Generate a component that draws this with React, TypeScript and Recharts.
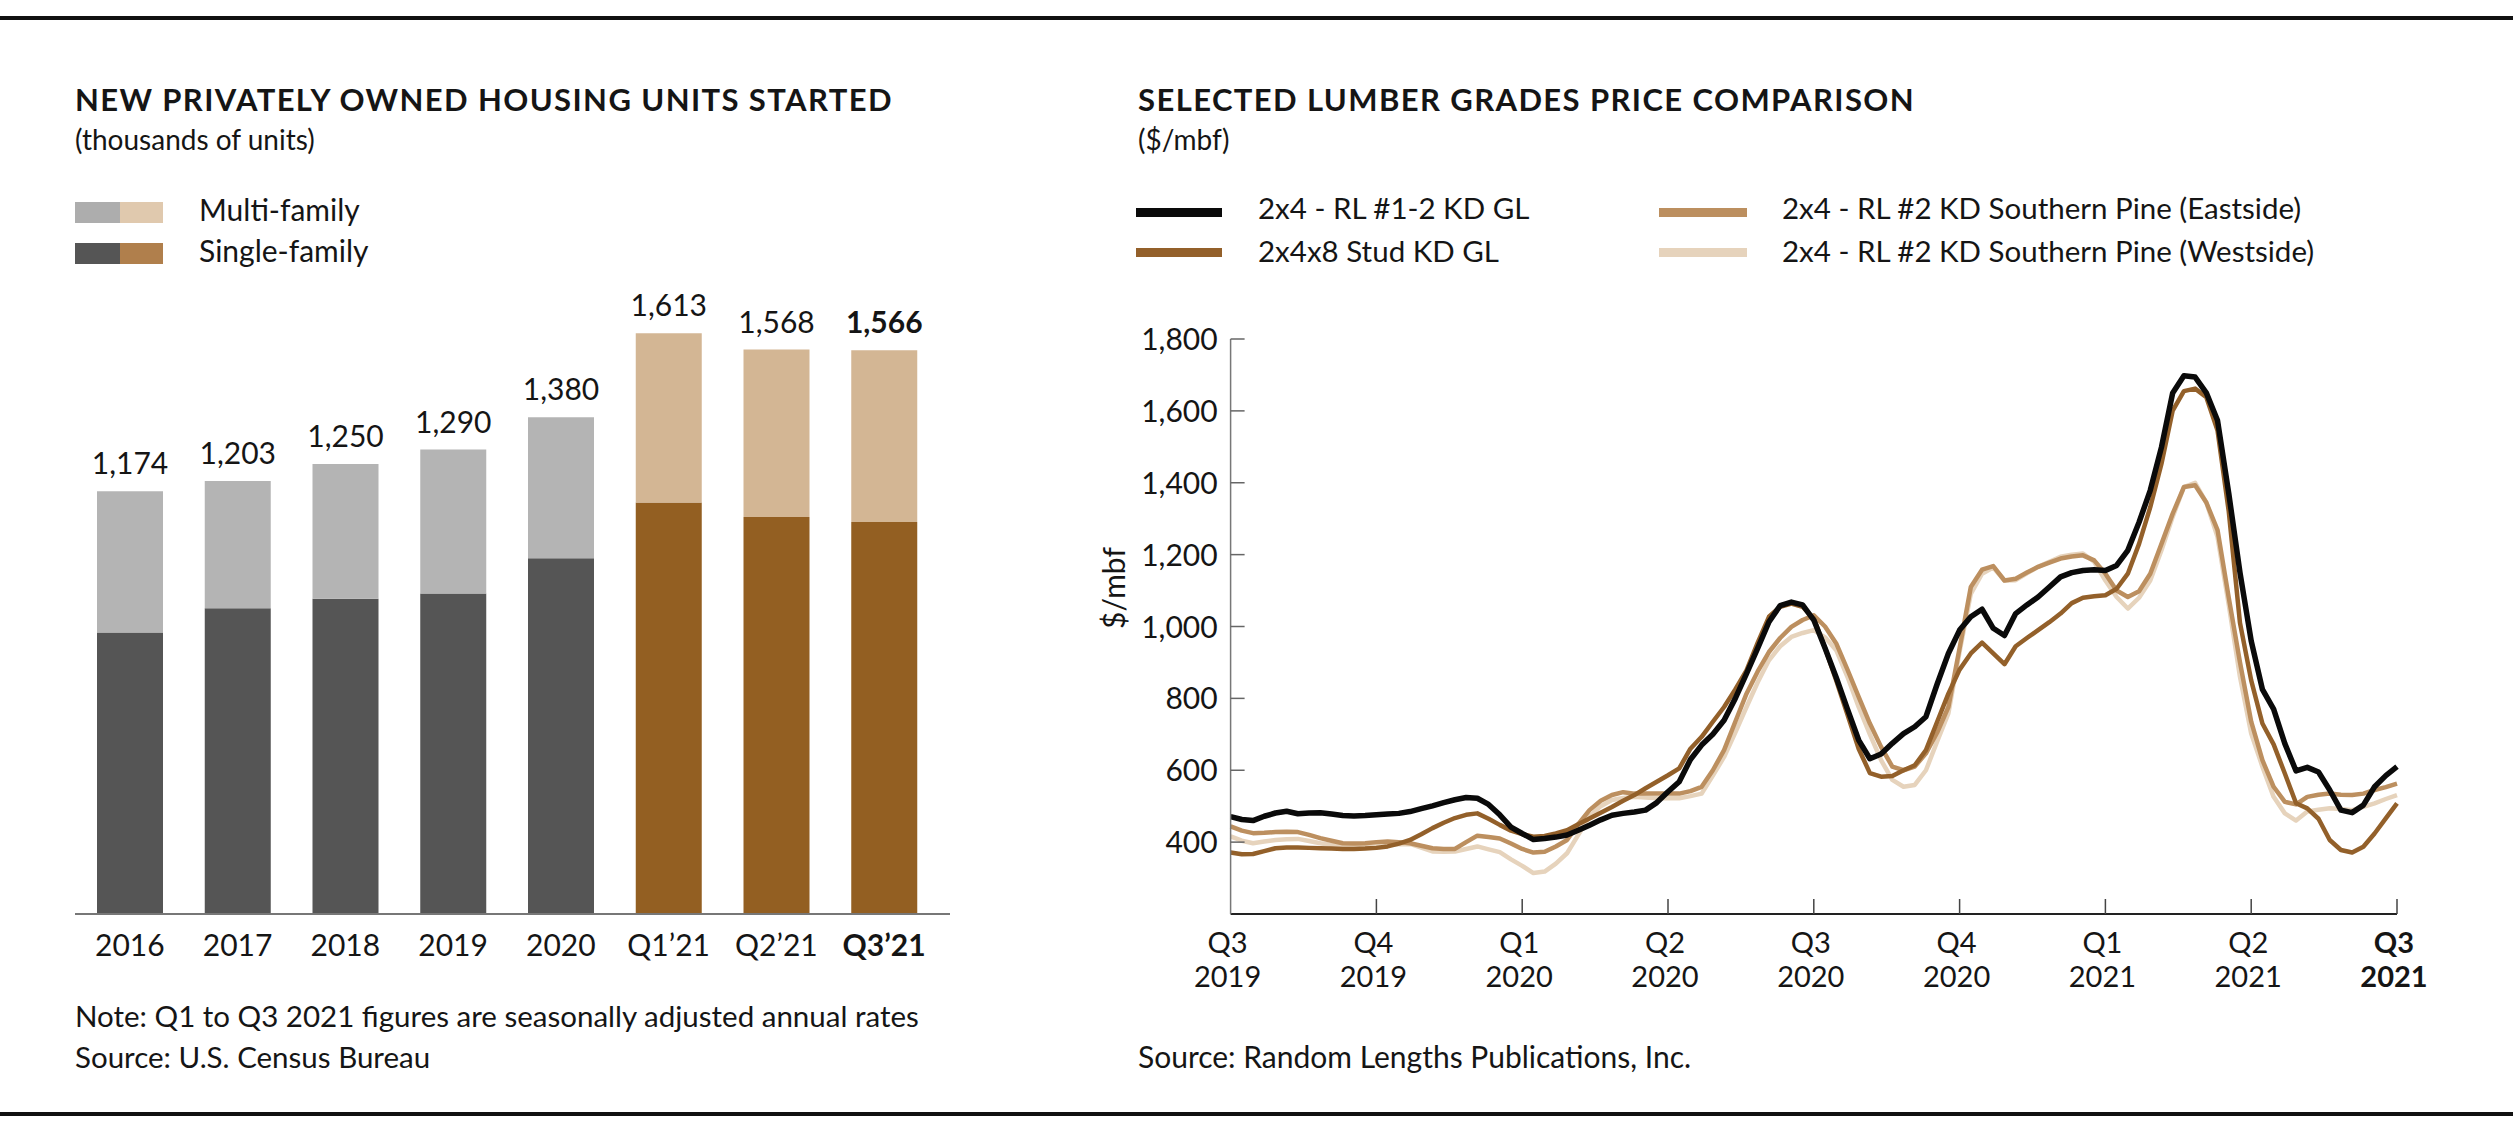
import React from 'react';
import { BarChart, Bar, XAxis, YAxis, Cell, LabelList, LineChart, Line } from 'recharts';

// ---- housing starts (thousands of units) ----
const periods = ['2016', '2017', '2018', '2019', '2020', 'Q1’21', 'Q2’21', 'Q3’21'];
const totalStarts = [1174, 1203, 1250, 1290, 1380, 1613, 1568, 1566];
const singleFamily = [782, 849, 876, 890, 988, 1143, 1103, 1089];

// ---- weekly lumber prices ($/mbf), Q3 2019 .. Q3 2021 ----
const rl12Gl = [
  471, 463, 460, 472, 481, 486, 479, 481, 482, 478, 474, 473, 474,
  476, 478, 480, 485, 493, 501, 510, 518, 524, 522, 505, 476, 442,
  424, 407, 410, 414, 420, 433, 447, 462, 475, 480, 484, 489, 510,
  540, 568, 630, 670, 700, 739, 800, 869, 940, 1013, 1058, 1068, 1060,
  1018, 940, 858, 770, 684, 632, 645, 675, 702, 721, 749, 840, 925,
  990, 1027, 1048, 995, 975, 1036, 1060, 1082, 1110, 1138, 1150, 1156, 1158,
  1156, 1170, 1212, 1290, 1379, 1499, 1650, 1698, 1694, 1650, 1573, 1370, 1150,
  960, 825, 770, 674, 598, 608, 595, 545, 489, 482, 503, 554, 585,
  610,
];
const studGl = [
  371, 366, 367, 375, 383, 385, 385, 384, 383, 382, 381, 381, 382,
  384, 388, 396, 406, 422, 439, 454, 467, 476, 480, 465, 448, 432,
  422, 415, 417, 424, 433, 450, 466, 482, 498, 515, 531, 550, 568,
  586, 605, 660, 693, 735, 776, 825, 878, 955, 1027, 1055, 1064, 1055,
  1022, 940, 850, 755, 660, 592, 582, 584, 600, 614, 656, 735, 813,
  880, 925, 955, 925, 895, 945, 968, 990, 1012, 1036, 1065, 1080, 1084,
  1087, 1105, 1147, 1230, 1332, 1453, 1601, 1655, 1662, 1638, 1545, 1320, 1010,
  850, 730, 672, 591, 508, 494, 465, 406, 378, 371, 387, 424, 466,
  508,
];
const pineEast = [
  444, 432, 425, 426, 428, 429, 428, 420, 411, 404, 397, 396, 397,
  400, 402, 400, 397, 390, 383, 381, 381, 400, 418, 414, 410, 396,
  381, 371, 373, 388, 406, 450, 489, 515, 531, 539, 535, 535, 535,
  535, 535, 542, 554, 600, 656, 735, 813, 875, 929, 968, 999, 1018,
  1031, 1000, 953, 880, 804, 730, 665, 610, 600, 610, 647, 705, 776,
  940, 1110, 1158, 1168, 1128, 1133, 1150, 1166, 1178, 1189, 1195, 1198, 1184,
  1147, 1100, 1082, 1098, 1147, 1230, 1314, 1388, 1393, 1345, 1268, 1080, 900,
  735, 628, 554, 512, 505, 526, 532, 535, 532, 531, 535, 545, 553,
  563,
];
const pineWest = [
  416, 404, 397, 402, 406, 408, 409, 403, 397, 392, 388, 388, 388,
  391, 393, 394, 395, 385, 374, 373, 374, 381, 388, 380, 372, 352,
  334, 314, 318, 340, 369, 420, 471, 500, 517, 523, 526, 524, 522,
  522, 522, 528, 535, 585, 637, 705, 776, 845, 906, 945, 971, 982,
  990, 970, 934, 860, 776, 700, 628, 573, 554, 559, 600, 680, 758,
  930, 1091, 1147, 1164, 1128, 1129, 1148, 1166, 1180, 1194, 1200, 1203, 1180,
  1128, 1082, 1050, 1080, 1128, 1212, 1305, 1388, 1400, 1345, 1249, 1060, 860,
  702, 610, 526, 480, 460, 485, 490, 494, 492, 489, 498, 508, 520,
  531,
];

const quarterTicks = [0, 13, 26, 39, 52, 65, 78, 91, 104];
const quarterNames = ['Q3', 'Q4', 'Q1', 'Q2', 'Q3', 'Q4', 'Q1', 'Q2', 'Q3'];
const quarterYears = ['2019', '2019', '2020', '2020', '2020', '2020', '2021', '2021', '2021'];
const priceTicks = [400, 600, 800, 1000, 1200, 1400, 1600, 1800];

const font = 'Lato, "Open Sans", sans-serif';
const ink = '#151515';

const GRAY_DARK = '#555555';
const GRAY_LIGHT = '#b4b4b4';
const BROWN = '#935f22';
const TAN = '#d3b694';

const LINE_BLACK = '#0a0a0a';
const LINE_STUD = '#93602a';
const LINE_EAST = '#bc8f5f';
const LINE_WEST = '#e6d3bc';

const housingRows = periods.map((p, i) => ({
  period: p,
  single: singleFamily[i],
  multi: totalStarts[i] - singleFamily[i],
  total: totalStarts[i],
}));

const lumberRows = rl12Gl.map((v, i) => ({
  week: i,
  rl12: v,
  stud: studGl[i],
  east: pineEast[i],
  west: pineWest[i],
}));

const isQuarterly = (i: number) => i >= 5;

const renderTotal = (props: any) => {
  const { x, y, width, value, index } = props;
  return (
    <text
      x={x + width / 2}
      y={y - 17}
      textAnchor="middle"
      fontSize={30}
      fontFamily={font}
      fontWeight={index === periods.length - 1 ? 700 : 400}
      fill={ink}
    >
      {Number(value).toLocaleString('en-US')}
    </text>
  );
};

const PeriodTick = (props: any) => {
  const { x, y, payload, index } = props;
  return (
    <text
      x={x}
      y={y + 42}
      textAnchor="middle"
      fontSize={30}
      fontFamily={font}
      fontWeight={index === periods.length - 1 ? 700 : 400}
      fill={ink}
    >
      {payload.value}
    </text>
  );
};

const QuarterTick = (props: any) => {
  const { x, y, index } = props;
  const last = index === quarterTicks.length - 1;
  return (
    <g>
      {index > 0 && <line x1={x} x2={x} y1={y} y2={y - 15} stroke="#444" strokeWidth={1.5} />}
      <text x={x - 3} y={y + 39} textAnchor="middle" fontSize={29} fontFamily={font} fontWeight={last ? 700 : 400} fill={ink}>
        {quarterNames[index]}
      </text>
      <text x={x - 3} y={y + 73} textAnchor="middle" fontSize={29} fontFamily={font} fontWeight={last ? 700 : 400} fill={ink}>
        {quarterYears[index]}
      </text>
    </g>
  );
};

// left axis: tick marks point into the plot, labels sit outside
const PriceTick = (props: any) => {
  const { x, y, payload } = props;
  return (
    <g>
      <line x1={x} x2={x + 14} y1={y} y2={y} stroke="#666" strokeWidth={1.5} />
      <text x={x - 13} y={y + 11} textAnchor="end" fontSize={30} fontFamily={font} fill={ink}>
        {Number(payload.value).toLocaleString('en-US')}
      </text>
    </g>
  );
};

const T = ({ x, y, size = 29, bold = false, spacing = 0, children }: any) => (
  <text x={x} y={y} fontSize={size} fontFamily={font} fontWeight={bold ? 700 : 400} letterSpacing={spacing} fill={ink}>
    {children}
  </text>
);

const App: React.FC = () => {
  return (
    <div style={{ position: 'absolute', left: 0, top: 0, width: 2513, height: 1141, background: '#fff', overflow: 'hidden' }}>
      {/* housing starts, stacked bars */}
      <div style={{ position: 'absolute', left: 0, top: 0 }}>
        <BarChart
          width={1100}
          height={1141}
          data={housingRows}
          margin={{ top: 266, right: 150, bottom: 197, left: 75 }}
        >
          <XAxis
            dataKey="period"
            height={30}
            padding={{ left: 1, right: 12 }}
            tickLine={false}
            tickSize={0}
            tickMargin={0}
            axisLine={{ stroke: '#777', strokeWidth: 2 }}
            tick={<PeriodTick />}
            interval={0}
          />
          <YAxis hide domain={[0, 1800]} />
          <Bar dataKey="single" stackId="a" barSize={66} isAnimationActive={false}>
            {housingRows.map((_, i) => (
              <Cell key={i} fill={isQuarterly(i) ? BROWN : GRAY_DARK} />
            ))}
          </Bar>
          <Bar dataKey="multi" stackId="a" barSize={66} isAnimationActive={false}>
            {housingRows.map((_, i) => (
              <Cell key={i} fill={isQuarterly(i) ? TAN : GRAY_LIGHT} />
            ))}
            <LabelList dataKey="total" content={renderTotal} />
          </Bar>
        </BarChart>
      </div>

      {/* lumber price lines */}
      <div style={{ position: 'absolute', left: 1100, top: 0 }}>
        <LineChart
          width={1413}
          height={1141}
          data={lumberRows}
          margin={{ top: 339, right: 116, bottom: 197, left: 70.6 }}
        >
          <XAxis
            dataKey="week"
            type="number"
            domain={[0, 104]}
            ticks={quarterTicks}
            height={30}
            tickLine={false}
            tickSize={0}
            tickMargin={0}
            axisLine={{ stroke: '#222', strokeWidth: 2 }}
            tick={<QuarterTick />}
            interval={0}
          />
          <YAxis
            type="number"
            domain={[200, 1800]}
            ticks={priceTicks}
            width={60}
            tickLine={false}
            tickSize={0}
            tickMargin={0}
            axisLine={{ stroke: '#777', strokeWidth: 1.5 }}
            tick={<PriceTick />}
            interval={0}
          />
          <Line type="linear" dataKey="west" stroke={LINE_WEST} strokeWidth={4.5} dot={false} isAnimationActive={false} strokeLinejoin="round" />
          <Line type="linear" dataKey="east" stroke={LINE_EAST} strokeWidth={4.5} dot={false} isAnimationActive={false} strokeLinejoin="round" />
          <Line type="linear" dataKey="stud" stroke={LINE_STUD} strokeWidth={4.5} dot={false} isAnimationActive={false} strokeLinejoin="round" />
          <Line type="linear" dataKey="rl12" stroke={LINE_BLACK} strokeWidth={5.5} dot={false} isAnimationActive={false} strokeLinejoin="round" />
        </LineChart>
      </div>

      {/* titles, legends, notes and rules */}
      <svg width={2513} height={1141} style={{ position: 'absolute', left: 0, top: 0, pointerEvents: 'none' }}>
        <rect x={0} y={16} width={2513} height={4} fill="#111" />
        <rect x={0} y={1112} width={2513} height={4} fill="#111" />

        <T x={75} y={111} size={31} bold spacing={1.4}>NEW PRIVATELY OWNED HOUSING UNITS STARTED</T>
        <T x={75} y={150} size={28}>(thousands of units)</T>
        <rect x={75} y={202} width={45} height={21} fill="#adadad" />
        <rect x={120} y={202} width={43} height={21} fill="#e0c9ae" />
        <rect x={75} y={243} width={45} height={21} fill={GRAY_DARK} />
        <rect x={120} y={243} width={43} height={21} fill="#b07f4c" />
        <T x={199} y={221} size={30}>Multi-family</T>
        <T x={199} y={262} size={30}>Single-family</T>
        <T x={75} y={1027} size={29.5}>Note: Q1 to Q3 2021 figures are seasonally adjusted annual rates</T>
        <T x={75} y={1068} size={29.5}>Source: U.S. Census Bureau</T>

        <T x={1138} y={111} size={31} bold spacing={1.4}>SELECTED LUMBER GRADES PRICE COMPARISON</T>
        <T x={1138} y={150} size={28}>($/mbf)</T>
        <rect x={1136} y={208} width={86} height={9} fill={LINE_BLACK} />
        <rect x={1136} y={248} width={86} height={9} fill={LINE_STUD} />
        <rect x={1659} y={208} width={88} height={9} fill={LINE_EAST} />
        <rect x={1659} y={248} width={88} height={9} fill={LINE_WEST} />
        <T x={1258} y={219} size={29.5}>2x4 - RL #1-2 KD GL</T>
        <T x={1258} y={262} size={29.5}>2x4x8 Stud KD GL</T>
        <T x={1782} y={219} size={29.5}>2x4 - RL #2 KD Southern Pine (Eastside)</T>
        <T x={1782} y={262} size={29.5}>2x4 - RL #2 KD Southern Pine (Westside)</T>
        <text
          x={1125}
          y={588}
          transform="rotate(-90 1125 588)"
          textAnchor="middle"
          fontSize={30}
          fontFamily={font}
          fill={ink}
        >
          $/mbf
        </text>
        <T x={1138} y={1068} size={30}>Source: Random Lengths Publications, Inc.</T>
      </svg>
    </div>
  );
};

export default App;
